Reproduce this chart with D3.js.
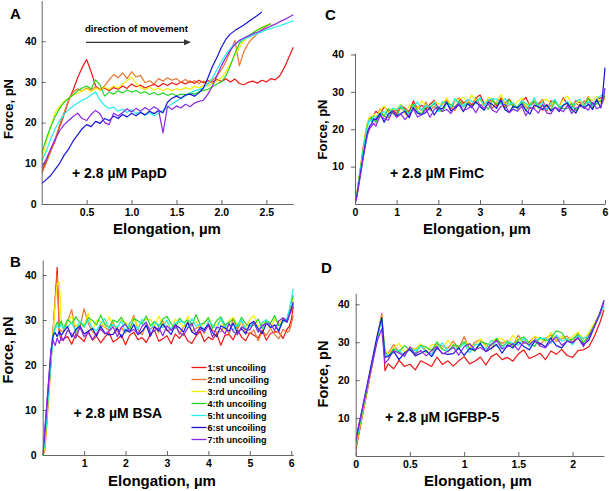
<!DOCTYPE html>
<html><head><meta charset="utf-8">
<script src="https://cdn.jsdelivr.net/npm/d3@7"></script>
<style>
body{margin:0;background:#fff}
svg{display:block}
text{font-family:"Liberation Sans",Arial,Helvetica,sans-serif;font-weight:bold;fill:#000}
</style>
</head><body>
<svg id="chart" width="609" height="491"></svg>
<script>
// ---------------- DATA ----------------
const seriesLabels = ["1:st uncoiling","2:nd uncoiling","3:rd uncoiling","4:th uncoiling","5:ht uncoiling","6:st uncoiling","7:th uncoiling"];

// Panel A (+ 2.8 µM PapD)
const xA = [0,0.05,0.1,0.15,0.2,0.25,0.3,0.35,0.4,0.45,0.5,0.55,0.6,0.65,0.7,0.75,0.8,0.85,0.9,0.95,1,1.05,1.1,1.15,1.2,1.25,1.3,1.35,1.4,1.45,1.5,1.55,1.6,1.65,1.7,1.75,1.8,1.85,1.9,1.95,2,2.05,2.1,2.15,2.2,2.25,2.3,2.35,2.4,2.45,2.5,2.55,2.6,2.65,2.7,2.75,2.8];
const aRed = [8,10.5,13,15.5,19,22,25.5,28,31,33.5, 35.5,32.5,29,28,28.5,27.8,28.6,28.2,29,28.4, 29.5,28.8,29.2,28.5,29,29.4,28.8,29.6,29.1,29.8, 29.3,30,29.5,30.2,29.6,30.4,29.8,30.3,29.9,30.6, 30.1,30.8,30,30.7,29.6,29.3,29.9,30.2,29.7,30.4, 30,30.8,30.5,31.5,33.5,36,38.5];
const aOrange = [7.5,10,13,16,19.5,22.5,25.5,27.5,28.3,27.8, 28.5,28,28.8,28.2,29,30.5,31.8,31,32.2,30.8, 32.5,31.2,31.6,29.8,30.3,29.5,30.8,30.2,31,30.4, 30.8,29.9,30.6,29.8,30.3,29.6,30.2,29.5,30.4,31.5, 33,35,37.5,40.2,34,37.5,39.5,40.8,41.8,42.8, 43.6,44.4,null,null,null,null,null];
const aYellow = [11,15,19,22.5,24,25.3,26,26.8,27.2,27.8, 28.3,27.6,28.4,28,28.7,28.2,29,28.5,29.5,30.3, 31.2,29.6,28.6,28.1,28.7,28,28.5,27.9,28.4,27.8, 28.3,28,28.6,28.2,28.9,28.5,29.2,29,29.6,30.2, 31,32.5,34.5,36.5,38.5,40,41.2,42,42.8,43.4, 43.9,44.2,null,null,null,null,null];
const aGreen = [12.5,16,19,21.5,23.5,25,26,26.8,27.8,28.5, 29,28.3,30.5,29.2,26.5,27.5,27,27.8,27.3,28, 27.5,27.9,27.2,27.6,26.9,27.4,26.8,27.3,26.7,27.1, 26.6,27,26.8,27.3,27,27.6,27.9,28.2,28.8,29.5, 30,31.5,34,37,39.5,40.5,41.3,42,42.7,43.3, 43.8,44.3,null,null,null,null,null];
const aCyan = [10.5,13,16,18.5,20.5,22,23.2,24,24.8,25.5, 26,26.8,27.5,25.5,24.2,23.5,23.8,22.8,23.3,22.5, 23.2,22.2,22.7,21.8,22.4,21.7,22.3,23,23.8,24.6, 25.3,26,26.6,27.2,27.8,28.1,28.6,29.5,31,33, 35,36.8,38.2,39.3,40,40.5,41,41.4,41.9,42.3, 42.8,43.1,43.5,43.8,44.2,44.6,45];
const aBlue = [5,6,7,8.5,10,12,13.5,15.5,17,18.5, 19.5,19,20.3,19.8,21,20.5,21.6,21,22,21.4, 22.3,21.7,22.5,21.9,22.8,22.2,23,22.4,25,26, 26.5,26,26.8,27,26.5,27.3,28.5,31,33.8,36, 38.5,40.5,41.8,42.6,43.3,44,44.8,45.6,46.3,47.2, null,null,null,null,null,null,null];
const aPurple = [9,11,13.5,16,18,19.5,20.5,21.5,22.3,21, 20.5,22,23,22.2,20,19.5,22.3,21.6,22.5,23.4, 22.6,23.5,22.8,23.7,23,23.9,23.2,17.5,24,23.2, 24.1,23.6,24.5,23.9,24.8,25.2,25.5,27,29,31.5, 34,36,37.8,39.2,40.2,40.8,41.3,41.8,42.2,42.7, 43.2,43.7,44.2,44.8,45.3,45.9,46.5];

// Panel B (+ 2.8 µM BSA)
const xB = [0,0.05,0.1,0.15,0.2,0.25,0.3,0.35,0.4,0.45, 0.5,0.6,0.7,0.8,0.9, 1,1.1,1.2,1.3,1.4,1.5,1.6,1.7,1.8,1.9, 2,2.1,2.2,2.3,2.4,2.5,2.6,2.7,2.8,2.9, 3,3.1,3.2,3.3,3.4,3.5,3.6,3.7,3.8,3.9, 4,4.1,4.2,4.3,4.4,4.5,4.6,4.7,4.8,4.9, 5,5.1,5.2,5.3,5.4,5.5,5.6,5.7,5.8,5.9, 5.95,6,6.05];
const bRed = [0,1,7,14,20.5,27.5,34.5,41.7,27,25.5, 25.8,26.3,24.6,26.9,26.1, 25.2,27.6,25.5,26.4,24.9,26.2,27.2,25.1,25.7,26.7, 24.5,26.6,27.3,25.6,26.1,25,26.8,27.7,25.3,25.8, 26.5,24.7,26.9,25.9,27.1,25.4,24.8,26.4,27.5,25.2, 26.2,25.6,27,24.4,26.6,26.8,25.6,27.9,26.2,25.4, 27.2,26.6,26,27.7,25.5,27,27.4,27.3,25.9,28, 28.5,30,33];
const bOrange = [0,2,8,15,21.5,28,34.5,40,28,27.5, 27.5,29.7,32.3,26.9,28.6, 32.5,29.2,27.4,26.5,28.9,28.4,27.7,29.5,27.3,28.3, 27.1,28.8,31,27.8,26.7,29,28,28.6,27.2,29.8, 27.6,27.9,29.1,26.8,28.5,29.3,27.5,28.1,28.7,27, 29.2,27.7,27.3,27.4,28.8,26.7,30.5,27.9,29.6,27.3, 26.9,27.8,25.4,27.5,26.6,28.1,26.8,25.8,27.9,27.3, 27.5,29,31];
const bYellow = [0,1.5,7.5,14,20.5,27,33.5,38,38.5,29.5, 28.1,29.7,30.8,28.5,29.5, 28.9,31.5,27.7,29.9,29.6,28.4,30.7,29,28.2,30, 29.4,28.8,30.5,28.3,29.8,30.2,30.1,28.7,30.8,29.1, 29.6,27.9,30.2,29.4,28.5,30.9,28.8,29.7,28.2,29.5, 30.5,28.4,29,30,27.8,29.9,30.6,28.9,29.4,28.3, 30.1,31,28.6,29.1,29.8,28,30.2,29.2,30.4,29.7, 31,33,35];
const bGreen = [0,3,9,15,21,26.5,28.5,29.5,28.7,29.8, 28,30.1,29.2,30.7,29.4, 28.4,30.5,29.9,28.9,31.1,29,28.3,30,29.5,30.6, 28.8,27.9,30.3,29.8,29.1,30.9,28.7,29.7,28.5,30.2, 30.8,29.2,28.1,30.4,29.4,30,28.6,31.2,29,29.3, 30.5,28.2,29.9,30.7,28.9,29.5,30.1,28.4,30.6,29.1, 28.7,28.8,30.2,28.1,29.8,29.3,31,28.7,29.5,30.4, 32,34,35.5];
const bCyan = [0,3,9,15,21,26,28,28.8,28.2,29, 28.1,28.6,29.3,27.5,29.7, 28.7,29.9,28.2,27.6,29.2,30.3,28,29,28.4,29.8, 27.2,29.4,29.1,27.9,30.2,28.5,27.7,29.5,28.9,28.3, 30,27.8,29.3,29.7,29.6,28.2,30.3,28.6,29.1,27.4, 29.7,28.9,28,30.4,28.3,29.2,27.7,29,30,27.9, 28.5,29.5,27.3,29.4,30.1,28.4,28.9,27.8,29.6,30.5, 32,34.5,37];
const bBlue = [0,5,11,17,23,26.5,27.2,26.3,27.5,26.6, 27.3,28.5,26.2,27.9,28.7, 26.9,27.5,28.1,26.4,28.6,27.1,26.7,26.8,28.2,26.1, 27.8,27.3,29,26.7,27.5,28.8,26.4,28.5,27.6,29.1, 27.8,26.8,28.9,28.3,27.3,29.5,27.4,26.7,28.4,27.9, 29,27.2,26.3,28.7,28.2,27.5,29.3,27.1,28.1,26.9, 29.1,29.7,28.1,27,29.3,28.3,28.9,27.5,30.1,29.5, 31,32.5,34];
const bPurple = [0,5.5,11.5,17.5,23.5,25.5,24.3,26,24.8,26.3, 25.4,27.7,26.9,26,28.4, 26.3,27.2,25.7,27,28,26.9,27.5,28.5,26.3,28.4, 29.1,27.4,27.9,26.8,28.6,29.5,27.1,27.6,28.3,26.5, 28.7,27.7,28.9,27.2,26.6,28.2,29.3,27,28,27.4, 28.8,26.2,28.4,28.1,26.9,29.2,27.5,26.7,28.5,27.9, 27.8,29.5,27.3,28.8,29.2,29.1,27.7,29.8,30.5,29.8, 31,32,33.5];

// Panel C (+ 2.8 µM FimC)
const xC = [0,0.05,0.1,0.15,0.2,0.25,0.3,0.35,0.4,0.45, 0.5,0.6,0.7,0.8,0.9, 1,1.1,1.2,1.3,1.4,1.5,1.6,1.7,1.8,1.9, 2,2.1,2.2,2.3,2.4,2.5,2.6,2.7,2.8,2.9, 3,3.1,3.2,3.3,3.4,3.5,3.6,3.7,3.8,3.9, 4,4.1,4.2,4.3,4.4,4.5,4.6,4.7,4.8,4.9, 5,5.1,5.2,5.3,5.4,5.5,5.6,5.7,5.8,5.9, 5.95,6];
const cRed = [0,3,7,11,15,18.5,21.5,23,22.5,23.8, 24.8,23.9,26,24.8,25.3, 24.1,26.4,25.6,24.7,27.6,25.5,26.4,25.4,26.7,27.7, 25.6,26.7,27.7,25.5,27.6,28.3,27.1,27.6,26.5,28.3, 29.2,26.8,27.3,28,26.2,28.4,26.9,28.1,26.4,25.8, 27.4,28.5,26.2,27.2,26.6,28,24.9,27.6,27.3,26.1, 28.4,26.7,25.9,27.7,27.1,26.5,28.7,26.5,28,28.4, 28.5,29];
const cOrange = [0,3.2,7.2,11.2,15.2,18.8,21.8,22.6,23.4,22.5, 22.8,25.5,23.4,23.2,24.9, 24.9,26,24.2,23.3,26.2,25.7,25,27.3,25.1,26.1, 24.9,27.1,27.7,26.1,25,27.3,26.8,27.4,26,28.6, 26.4,26.7,27.9,25.6,27.3,28.1,25.8,26.4,27,25.3, 27.5,26,25.6,25.7,27.1,25,26.2,26.2,27.9,25.6, 26.4,27.3,24.9,27,26.1,27.6,26.8,25.8,27.9,27.3, 27.5,28.5];
const cYellow = [0,3,7,11,15,18.7,22,23.5,22.8,24.2, 23,25.1,26.2,24.4,25.4, 25.3,26.7,24.1,26.3,26.5,25.3,27.6,26.4,25.6,27.4, 26.8,26.7,28.4,26.2,27.7,28.1,28.5,27.1,29.2,27.5, 28,26.3,28.6,27.8,26.9,29.3,26.7,27.6,26.1,27.4, 28.4,26.3,26.9,27.9,25.7,27.8,28,26.8,27.3,26.2, 28,28.9,26.5,27,27.7,25.9,28.6,27.6,28.8,27.1, 28,29.5];
const cGreen = [0,2.8,6.8,10.8,14.8,18.3,21.2,22.4,23.2,22.6, 21.8,24.4,23.5,25.5,24.2, 23.7,25.8,25.2,24.2,26.9,24.8,24.1,26.3,25.8,26.9, 25.1,24.7,27.1,26.6,25.9,27.7,26,27,25.8,27.5, 28.1,26.5,25.4,27.7,26.7,27.3,25.4,28,25.8,26.1, 27.3,25,26.7,27.5,25.7,26.3,26.4,25.2,27.4,25.9, 25.5,25.6,27,24.9,26.6,26.1,28.3,26,26.8,27.7, 28,29];
const cCyan = [0,2.6,6.5,10.4,14.3,17.8,20.8,22.8,22,23.6, 23.1,24.1,24.8,23.5,25.7, 25.2,26.4,24.7,24.1,26.2,27.3,25,26.5,25.9,27.3, 24.7,27.4,27.1,25.9,28.2,26.5,26.2,28,27.4,26.8, 28.5,26.3,27.8,28.2,28.1,26.7,28.3,26.6,27.1,25.4, 27.7,26.9,26,28.4,26.3,27.2,25.2,27,28,25.9, 26.5,27.5,25.3,27.4,28.1,26.4,27.4,26.3,28.1,29, 29,30];
const cBlue = [0,2.5,6,9.5,13,16.2,19.2,20.8,21.5,22.8, 22.5,24.2,21.9,24.1,24.9, 23.6,24.2,24.8,23.1,25.8,24.3,23.9,24.5,25.9,23.8, 25.5,25.5,27.2,24.9,25.7,26.6,24.7,26.8,25.9,27.4, 26.1,25.1,27.2,26.6,25.6,27.8,25.2,24.5,26.2,25.7, 26.8,25,24.1,26.5,26,25.3,26.6,24.9,25.9,24.7, 26.4,27,25.4,24.3,26.6,25.6,26.7,25.3,27.9,25.7, 30,36.5];
const cPurple = [0,2.2,5.6,9,12.4,15.6,18.5,20.2,20.8,21.6, 20.8,23.6,22.8,22.4,24.8, 23.2,24.1,22.6,23.9,25.4,23.3,23.9,25.4,23.2,25.3, 26,24.8,25.3,24.2,26,26.9,25,25.5,26.2,24.4, 26.6,25.6,26.8,25.1,24.5,26.1,26.7,24.4,25.4,24.8, 26.2,23.6,25.8,25.5,24.3,26.6,24.4,24.1,25.9,25.3, 24.7,26.4,24.2,25.7,26.1,26,25.1,27.2,25.5,26, 27.5,31];

// Panel D (+ 2.8 µM IGFBP-5)
const xD = [0,0.05,0.1,0.15,0.2,0.24,0.27, 0.3,0.35,0.4,0.45,0.5,0.55,0.6,0.65,0.7,0.75, 0.8,0.85,0.9,0.95,1,1.05,1.1,1.15,1.2,1.25, 1.3,1.35,1.4,1.45,1.5,1.55,1.6,1.65,1.7,1.75, 1.8,1.85,1.9,1.95,2,2.05,2.1,2.15, 2.2,2.25,2.29];
const dRed = [1.5,8.8,16.2,23.6,31,37.5,22.5, 24.3,23,25.2,23.6,24.2,22.7,25.1,24.4,23.6,26.1, 24.1,25.1,23.7,25.1,26.2,24.3,25,26.1,24,26.2, 27,25.4,26,25,26.9,28,25.7,26.3,27.1,25.4, 27.7,26.8,28.1,26.5,26,27.8,28,28.8, 31.5,35,38.5];
const dOrange = [2,9,16.5,24,31.3,37.2,27, 27.1,29.4,27.4,26.8,28.6,28.2,29.4,27.7,26.9,29.4, 29,28.4,30.3,28.2,31.5,28.2,30,30.7,29.2,28.2, 30.6,29.7,30.4,29.1,31.8,29.7,30.1,31.4,29.2,31, 31.9,30.2,30.9,31.6,30,32.3,30.9,32.2, 34.5,37,39.5];
const dYellow = [2.5,9.5,17,24.3,31.5,36.8,28, 26.8,28.5,29.7,27.5,28.6,28.1,29.6,27.1,29.4,29.2, 28.1,30.5,28.9,28.2,30.1,29.6,29.1,30.9,28.8,30.4, 30.9,30.9,29.6,31.8,30.2,30.8,29.2,31.6,30.9,30.1, 32.6,30.6,31.6,30.2,31.6,32.7,30.7,32.5, 35,37.5,40];
const dGreen = [3,10,17.3,24.5,31.5,36.5,27.5, 26.1,28.3,27.5,29.1,27.9,27,29.2,28.7,27.8,30.1, 28.1,27.5,29.3,28.9,30.1,28.4,27.6,30.1,29.7,29.1, 31,28.9,30,28.9,30.7,31.4,29.9,28.9,31.3,30.4, 31.1,33,32.5,30.4,30.8,32.1,29.9,31.7, 34.5,37.5,40.5];
const dCyan = [3.5,10.5,17.5,24.5,31.5,36,26.8, 26.6,27.2,28,26.3,28.6,27.7,29,27.4,26.9,28.6, 29.8,27.6,28.7,28.2,29.7,27.2,29.5,29.3,28.2,30.6, 29,28.3,30.2,29.7,29.2,31,28.9,30.5,31,31, 29.7,31.9,30.3,30.9,29.3,31.7,31,31.5, 34,37,40];
const dBlue = [4,11,18,25,32,36.5,26, 26.3,27.6,25.4,27.2,28.1,26.4,27.1,27.8,26.2,28.5, 27.1,26.8,27,28.5,26.5,28.3,27.9,29.7,27.5,28.4, 29.4,27.1,29.3,28.5,30.1,28.9,28,30.2,29.7,28.8, 31.1,29.1,28.5,30.3,29.9,31.1,29.4,30.5, 34,37.5,41];
const dPurple = [4.5,11,17.5,24,30.5,33.5,24.5, 25.4,27.8,27.1,26.3,28.8,26.8,27.8,26.4,27.8,28.9, 26.9,27.6,28.7,26.6,28.8,29.6,28,28.6,27.6,29.5, 30.5,28.2,28.8,29.6,27.9,30.2,29.3,30.6,29,28.5, 30.2,31.4,29.2,30.3,29.8,31.3,28.8,31.5, 34,37.5,41];

// tick values
const xTicksA = [0.5,1,1.5,2,2.5], yTicksA = [0,10,20,30,40];
const xTicksB = [1,2,3,4,5,6],     yTicksB = [0,10,20,30,40];
const xTicksC = [0,1,2,3,4,5,6],   yTicksC = [10,20,30,40];
const xTicksD = [0,0.5,1,1.5,2],   yTicksD = [10,20,30,40];

// ---------------- STYLE ----------------
const colors = ["#f01414","#e8742c","#f2f000","#22d422","#22eeee","#1414d8","#8a2ae4"];
const svg = d3.select("#chart");

function drawPanel(p){
  const x = d3.scaleLinear().domain(p.xDom).range([p.x0, p.x1]);
  const y = d3.scaleLinear().domain(p.yDom).range([p.y0, p.y1]);
  const clipId = "clip" + p.id;
  svg.append("clipPath").attr("id", clipId).append("rect")
    .attr("x", p.x0).attr("y", p.y1 - 1).attr("width", p.x1 - p.x0 + 2).attr("height", p.y0 - p.y1 + 2);
  const g = svg.append("g").attr("clip-path", `url(#${clipId})`);
  const line = d3.line().defined(d => d[1] != null).x(d => x(d[0])).y(d => y(d[1]));
  p.series.forEach((s, i) => {
    g.append("path").datum(p.xs.map((xv, j) => [xv, s[j]]))
      .attr("d", line).attr("fill", "none").attr("stroke", colors[i])
      .attr("stroke-width", 1.2).attr("stroke-linejoin", "round");
  });
  const xa = d3.axisBottom(x).tickValues(p.xTicks).tickFormat(p.xFmt)
    .tickSizeInner(-4).tickSizeOuter(0).tickPadding(p.xPad);
  const ya = d3.axisLeft(y).tickValues(p.yTicks).tickFormat(d3.format("d"))
    .tickSizeInner(p.yTick).tickSizeOuter(0).tickPadding(p.yPad);
  [svg.append("g").attr("transform", `translate(0,${p.y0})`).call(xa),
   svg.append("g").attr("transform", `translate(${p.x0},0)`).call(ya)].forEach(ax => {
    ax.attr("font-size", null).attr("font-family", null);
    ax.select(".domain").attr("stroke", "#666").attr("stroke-width", 1);
    ax.selectAll(".tick line").attr("stroke", "#666");
    ax.selectAll(".tick text").style("font-size", "10.5px").attr("fill", "#000");
  });
  svg.append("text").attr("x", p.xtX).attr("y", p.xtY).attr("text-anchor", "middle")
    .style("font-size", "15px").text("Elongation, µm");
  svg.append("text").attr("transform", `translate(${p.ytX},${p.ytY}) rotate(-90)`)
    .attr("text-anchor", "middle").style("font-size", p.ytSize + "px").text("Force, pN");
  svg.append("text").attr("x", p.lx).attr("y", p.ly).style("font-size", "15px").text(p.letter);
  svg.append("text").attr("x", p.ax).attr("y", p.ay).style("font-size", "14px").text(p.note);
  return {x, y};
}

drawPanel({id:"A", letter:"A", note:"+ 2.8 µM PapD", xs:xA,
  series:[aRed,aOrange,aYellow,aGreen,aCyan,aBlue,aPurple],
  xDom:[0,2.8], yDom:[0,50], x0:41.7, x1:293.3, y0:204, y1:0.5,
  xTicks:xTicksA, yTicks:yTicksA, xFmt:d3.format(".1f"), xPad:5, yTick:-4, yPad:5,
  xtX:167, xtY:233.5, ytX:12.5, ytY:109, ytSize:13, lx:10, ly:18.5, ax:72, ay:178});

drawPanel({id:"B", letter:"B", note:"+ 2.8 µM BSA", xs:xB,
  series:[bRed,bOrange,bYellow,bGreen,bCyan,bBlue,bPurple],
  xDom:[0,6.05], yDom:[0,43.33], x0:42.7, x1:293.3, y0:455, y1:260,
  xTicks:xTicksB, yTicks:yTicksB, xFmt:d3.format("d"), xPad:5, yTick:-4, yPad:6,
  xtX:162, xtY:485.5, ytX:12.5, ytY:350, ytSize:14.5, lx:10, ly:267, ax:73.5, ay:418});

drawPanel({id:"C", letter:"C", note:"+ 2.8 µM FimC", xs:xC,
  series:[cRed,cOrange,cYellow,cGreen,cCyan,cBlue,cPurple],
  xDom:[0,6], yDom:[0,40.4], x0:355, x1:605, y0:204, y1:53,
  xTicks:xTicksC, yTicks:yTicksC, xFmt:d3.format("d"), xPad:5, yTick:4, yPad:7,
  xtX:477, xtY:233.5, ytX:326.5, ytY:129.5, ytSize:13, lx:325, ly:20, ax:390, ay:178});

drawPanel({id:"D", letter:"D", note:"+ 2.8 µM IGFBP-5", xs:xD,
  series:[dRed,dOrange,dYellow,dGreen,dCyan,dBlue,dPurple],
  xDom:[0,2.29], yDom:[0,42.9], x0:355.7, x1:604, y0:456, y1:293.3,
  xTicks:xTicksD, yTicks:yTicksD, xFmt:d3.format("~g"), xPad:5, yTick:-4, yPad:6,
  xtX:478, xtY:485.5, ytX:327.5, ytY:374, ytSize:14.5, lx:321, ly:273, ax:385, ay:421.5});

// Panel A annotation: direction of movement arrow
svg.append("text").attr("x", 85).attr("y", 31.5).style("font-size", "9.6px").text("direction of movement");
svg.append("line").attr("x1", 86).attr("x2", 185).attr("y1", 42.3).attr("y2", 42.3)
  .attr("stroke", "#333").attr("stroke-width", 1.3);
svg.append("path").attr("d", "M184,39.3 L191,42.3 L184,45.3 Z").attr("fill", "#333");

// Panel B legend
const legend = svg.append("g");
seriesLabels.forEach((lab, i) => {
  const yy = 367.5 + i * 12;
  legend.append("line").attr("x1", 191.5).attr("x2", 206.5).attr("y1", yy).attr("y2", yy)
    .attr("stroke", colors[i]).attr("stroke-width", 1.3);
  legend.append("text").attr("x", 207.5).attr("y", yy + 3.3).style("font-size", "9px").text(lab);
});
</script>
</body></html>
